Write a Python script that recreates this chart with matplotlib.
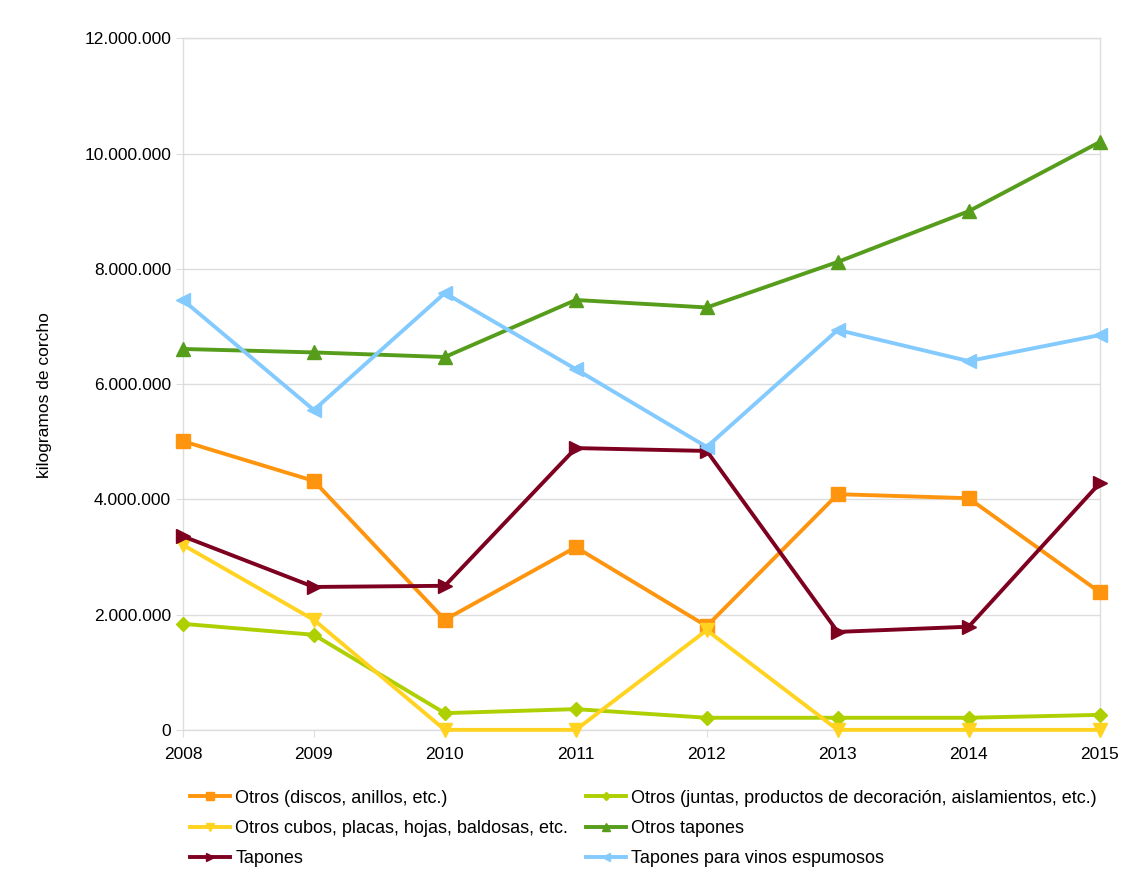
import matplotlib
matplotlib.use("Agg")
import matplotlib.pyplot as plt
from matplotlib.ticker import FuncFormatter, MultipleLocator

plt.rcParams['font.family'] = ['Liberation Sans', 'DejaVu Sans']

years = [2008, 2009, 2010, 2011, 2012, 2013, 2014, 2015]
discos = [5.01e6, 4.32e6, 1.91e6, 3.17e6, 1.80e6, 4.09e6, 4.02e6, 2.39e6]
juntas = [1.84e6, 1.65e6, 0.29e6, 0.36e6, 0.21e6, 0.21e6, 0.21e6, 0.26e6]
cubos = [3.21e6, 1.91e6, 0, 0, 1.73e6, 0, 0, 0]
otros_tapones = [6.61e6, 6.55e6, 6.47e6, 7.46e6, 7.33e6, 8.12e6, 9.00e6, 10.20e6]
tapones = [3.36e6, 2.48e6, 2.50e6, 4.89e6, 4.84e6, 1.70e6, 1.79e6, 4.28e6]
espumosos = [7.46e6, 5.55e6, 7.58e6, 6.26e6, 4.91e6, 6.94e6, 6.40e6, 6.85e6]

labels = ["Otros (discos, anillos, etc.)",
          "Otros (juntas, productos de decoración, aislamientos, etc.)",
          "Otros cubos, placas, hojas, baldosas, etc.",
          "Otros tapones",
          "Tapones",
          "Tapones para vinos espumosos"]

fig = plt.figure(figsize=(11.36, 8.72), dpi=100)
ax = fig.add_axes([0.161, 0.163, 0.807, 0.793])

series = [
    (discos, '#ff950e', 's', labels[0]),
    (juntas, '#aecf00', 'D', labels[1]),
    (cubos, '#ffd320', 'v', labels[2]),
    (otros_tapones, '#579d1c', '^', labels[3]),
    (tapones, '#7e0021', '>', labels[4]),
    (espumosos, '#83caff', '<', labels[5]),
]
handles = {}
for vals, col, mk, lab in series:
    ms = 7.5 if mk == 'D' else 9.5
    h, = ax.plot(years, vals, color=col, marker=mk, lw=2.8, ms=ms, label=lab,
                 clip_on=False, zorder=3)
    handles[lab] = h

ax.set_xlim(2008, 2015)
ax.set_ylim(0, 12e6)
ax.yaxis.set_major_locator(MultipleLocator(2e6))
ax.set_xticks(years)
ax.yaxis.set_major_formatter(FuncFormatter(lambda v, p: f"{int(round(v)):,}".replace(",", ".")))
ax.grid(axis='y', color='#dddddd', lw=1)
for s in ax.spines.values():
    s.set_color('#dddddd')
    s.set_linewidth(1)
ax.tick_params(axis='both', colors='#dddddd', labelcolor='black', labelsize=12.5, length=5)
ax.tick_params(axis='x', pad=7)
ax.set_ylabel("kilogramos de corcho", fontsize=12.5)
ax.yaxis.set_label_coords(-0.143, 0.484)

order = [labels[0], labels[2], labels[4], labels[1], labels[3], labels[5]]
leg = fig.legend([handles[l] for l in order], order, ncol=2, loc='upper left',
                 bbox_to_anchor=(0.153, 0.113), frameon=False, fontsize=13,
                 handlelength=2.2, columnspacing=1.0, labelspacing=0.73,
                 handletextpad=0.3, markerscale=0.55)

fig.savefig("out.png", dpi=100)
